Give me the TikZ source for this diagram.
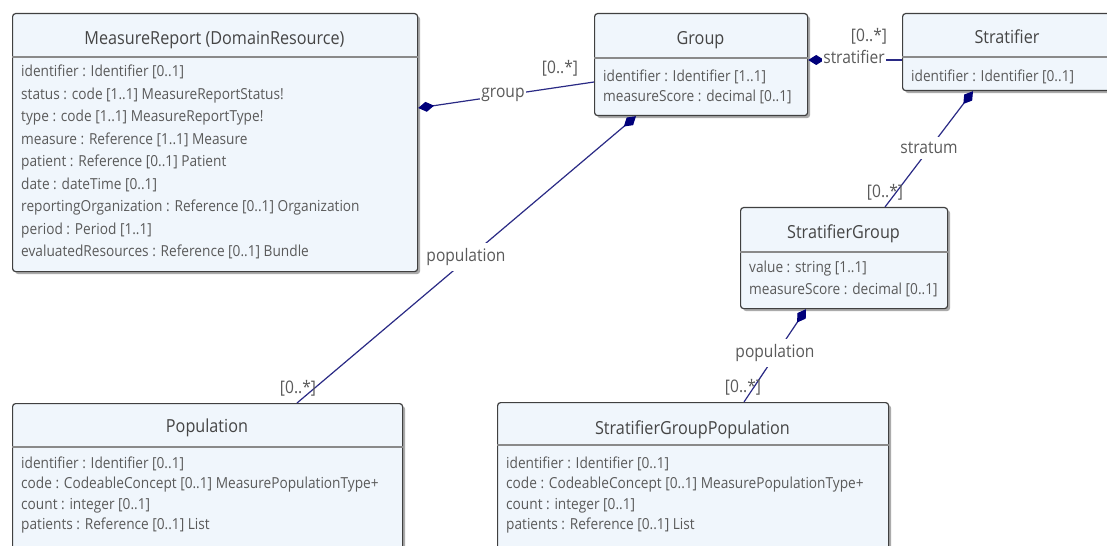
\documentclass[tikz,border=0pt]{standalone}
\usepackage{fontspec}
\setmainfont{Open Sans}[FakeStretch=0.9]
\usetikzlibrary{arrows.meta,shadows}
\definecolor{boxfill}{HTML}{F0F6FC}
\definecolor{boxline}{HTML}{404040}
\definecolor{sepline}{HTML}{8A8A8A}
\definecolor{txt}{HTML}{5A5A5A}
\definecolor{ttl}{HTML}{454545}
\definecolor{assocc}{HTML}{2A2A85}
\definecolor{dia}{HTML}{00007A}
\tikzset{
  classbox/.style={draw=boxline, fill=boxfill, line width=1.2bp, rounded corners=3bp,
    anchor=north west, inner sep=0pt,
    drop shadow={shadow xshift=2.5bp, shadow yshift=-2.5bp, fill=black!55, opacity=0.6}},
  sep/.style={draw=sepline, line width=1.5bp},
  ttlnode/.style={anchor=base, inner sep=0pt, text=ttl, font=\fontsize{18bp}{20bp}\selectfont},
  attrs/.style={anchor=base west, align=left, inner sep=0pt, text=txt},
  assoc/.style={draw=assocc, line width=1.2bp, {Diamond[length=16bp,width=10bp,fill=dia,color=dia]}-},
  role/.style={fill=white, inner xsep=1bp, inner ysep=5bp, text=txt, font=\fontsize{17.3bp}{18bp}\selectfont},
  mult/.style={inner sep=0pt, text=txt, font=\fontsize{17.3bp}{18bp}\selectfont},
}
\begin{document}
\begin{tikzpicture}[x=1bp,y=-1bp]
\useasboundingbox (0,0) rectangle (1107,546);
\clip (0,0) rectangle (1107,546);
\fill[white] (0,0) rectangle (1107,546);

% boxes
\node[classbox, minimum width=405bp, minimum height=258bp] (mr) at (12,13) {};
\node[classbox, minimum width=213bp, minimum height=102bp] (grp) at (594,13) {};
\node[classbox, minimum width=210bp, minimum height=77bp] (str) at (902,13) {};
\node[classbox, minimum width=207bp, minimum height=101bp] (sg) at (740,207) {};
\node[classbox, minimum width=390bp, minimum height=170bp] (pop) at (12,403) {};
\node[classbox, minimum width=391bp, minimum height=170bp] (sgp) at (497,402) {};

% separators
\draw[sep] (mr.west |- 0,57) -- (mr.east |- 0,57);
\draw[sep] (grp.west |- 0,58) -- (grp.east |- 0,58);
\draw[sep] (str.west |- 0,57) -- (str.east |- 0,57);
\draw[sep] (sg.west |- 0,252) -- (sg.east |- 0,252);
\draw[sep] (pop.west |- 0,447) -- (pop.east |- 0,447);
\draw[sep] (sgp.west |- 0,445) -- (sgp.east |- 0,445);

% titles
\node[ttlnode] (mrT) at (214.5,45) {MeasureReport (DomainResource)};
\node[ttlnode] (grpT) at (700.5,45) {Group};
\node[ttlnode] (strT) at (1007,44) {Stratifier};
\node[ttlnode] (sgT) at (843.5,239) {StratifierGroup};
\node[ttlnode] (popT) at (207,432) {Population};
\node[ttlnode] (sgpT) at (692.5,434) {StratifierGroupPopulation};

% attributes (anchor = baseline of the last line)
\node[attrs, font=\fontsize{15.2bp}{22.5bp}\selectfont] (mrA) at (21,257) {%
identifier : Identifier [0..1]\\
status : code [1..1] MeasureReportStatus!\\
type : code [1..1] MeasureReportType!\\
measure : Reference [1..1] Measure\\
patient : Reference [0..1] Patient\\
date : dateTime [0..1]\\
reportingOrganization : Reference [0..1] Organization\\
period : Period [1..1]\\
evaluatedResources : Reference [0..1] Bundle};
\node[attrs, font=\fontsize{15.2bp}{20bp}\selectfont] (grpA) at (603,102) {%
identifier : Identifier [1..1]\\
measureScore : decimal [0..1]};
\node[attrs, font=\fontsize{15.2bp}{20bp}\selectfont] (strA) at (911,82) {%
identifier : Identifier [0..1]};
\node[attrs, font=\fontsize{15.2bp}{22bp}\selectfont] (sgA) at (749,295) {%
value : string [1..1]\\
measureScore : decimal [0..1]};
\node[attrs, font=\fontsize{15.2bp}{20.5bp}\selectfont] (popA) at (21,529.5) {%
identifier : Identifier [0..1]\\
code : CodeableConcept [0..1] MeasurePopulationType+\\
count : integer [0..1]\\
patients : Reference [0..1] List};
\node[attrs, font=\fontsize{15.2bp}{20.5bp}\selectfont] (sgpA) at (506,529.5) {%
identifier : Identifier [0..1]\\
code : CodeableConcept [0..1] MeasurePopulationType+\\
count : integer [0..1]\\
patients : Reference [0..1] List};

% connector end points
\coordinate (mrG) at (mr.east |- 0,108);
\coordinate (grpW) at (grp.west |- 0,82);
\coordinate (grpS) at (grp.south -| 636,0);
\coordinate (popN) at (pop.north -| 297,0);
\coordinate (grpE) at (grp.east |- 0,60);
\coordinate (strW) at (str.west |- 0,60);
\coordinate (strS) at (str.south -| 973,0);
\coordinate (sgN) at (sg.north -| 885,0);
\coordinate (sgS) at (sg.south -| 806,0);
\coordinate (sgpN) at (sgp.north -| 744,0);

% connectors
\draw[assoc] (mrG) -- (grpW);
\draw[assoc] (grpS) -- (popN);
\draw[assoc] (grpE) -- (strW);
\draw[assoc] (strS) -- (sgN);
\draw[assoc] (sgS) -- (sgpN);

% role labels
\node[role] (lGroup) at (503,95) {group};
\node[role] (lPop) at (466,257) {population};
\node[role] (lStrat) at (854,57) {stratifier};
\node[role] (lStratum) at (929,148) {stratum};
\node[role] (lPop2) at (775,353) {population};

% multiplicities
\node[mult] (mGroup) at (560,68) {[0..*]};
\node[mult] (mPop) at (298,388) {[0..*]};
\node[mult] (mStrat) at (869,36) {[0..*]};
\node[mult] (mStratum) at (885,192) {[0..*]};
\node[mult] (mPop2) at (743,387) {[0..*]};
\end{tikzpicture}
\end{document}
